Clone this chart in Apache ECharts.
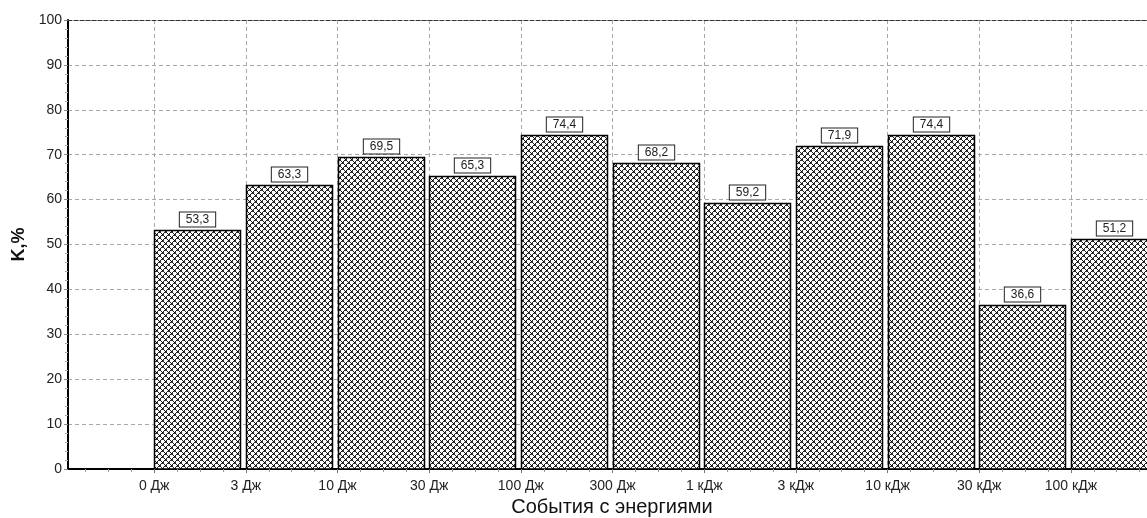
<!DOCTYPE html>
<html>
<head>
<meta charset="utf-8">
<script src="https://cdn.jsdelivr.net/npm/echarts@6/dist/echarts.min.js"></script>
<style>
  html, body { margin: 0; padding: 0; background: #fff; }
  #chart { width: 1147px; height: 518px; }
</style>
</head>
<body>
<div id="chart"></div>
<script>
// Energy class boundaries (tick labels on the x axis)
const boundaryLabels = ['0 Дж', '3 Дж', '10 Дж', '30 Дж', '100 Дж', '300 Дж',
  '1 кДж', '3 кДж', '10 кДж', '30 кДж', '100 кДж'];
// K, % for each energy class (class i lies between boundary i and i+1)
const kValues = [53.3, 63.3, 69.5, 65.3, 74.4, 68.2, 59.2, 71.9, 74.4, 36.6, 51.2];
// Value axis range
const yMin = 0, yMax = 100, yStep = 10;

// visible window of the class axis (last class runs past the right edge)
const xMin = -0.94, xMax = 10.83;
const FONT = '"Liberation Sans", Arial, sans-serif';

// Cross-hatch fill tile: thin diagonals with heavier crossing points
function hatchTile() {
  const n = 6;
  const c = document.createElement('canvas');
  c.width = n; c.height = n;
  const ctx = c.getContext('2d');
  ctx.fillStyle = '#fff';
  ctx.fillRect(0, 0, n, n);
  const img = ctx.getImageData(0, 0, n, n);
  const put = (x, y, v) => {
    const i = (((y + n) % n) * n + ((x + n) % n)) * 4;
    img.data[i] = v; img.data[i + 1] = v; img.data[i + 2] = v; img.data[i + 3] = 255;
  };
  for (let y = 0; y < n; y++) {
    for (let x = 0; x < n; x++) {
      const a = (x + y) % n === 0, b = (x - y + n) % n === 0;
      if (a || b) put(x, y, 30);
    }
  }
  // crossing points
  [[0, 0], [3, 3]].forEach(([x, y]) => {
    put(x, y, 0); put(x + 1, y, 60); put(x, y + 1, 60);
  });
  ctx.putImageData(img, 0, 0);
  return c;
}
const hatch = { image: hatchTile(), repeat: 'repeat' };

const barData = kValues.map((v, i) => [i, v]);
const majorTicks = boundaryLabels.map((_, i) => i);
const minorTicks = [];
for (let k = -1; k < boundaryLabels.length; k++) {
  for (let q = 1; q < 4; q++) {
    const t = k + q / 4;
    if (t > xMin && t < xMax) minorTicks.push(t);
  }
}

const fmt = v => v.toFixed(1).replace('.', ',');

const chart = echarts.init(document.getElementById('chart'), null, { renderer: 'canvas' });
chart.setOption({
  animation: false,
  backgroundColor: '#fff',
  grid: { left: 68, right: 0, top: 20, bottom: 49, containLabel: false, outerBoundsMode: 'none' },
  xAxis: [
    {
      type: 'value', min: xMin, max: xMax, position: 'bottom',
      name: 'События с энергиями', nameLocation: 'middle', nameGap: 27,
      nameTextStyle: { fontFamily: FONT, fontSize: 20, color: '#111', padding: [0, 0, 0, 9] },
      axisLine: { show: true, onZero: false, lineStyle: { color: '#000', width: 2 } },
      axisTick: { show: true, customValues: majorTicks, length: 4, lineStyle: { color: '#777' } },
      axisLabel: {
        customValues: majorTicks, margin: 10, hideOverlap: false,
        fontFamily: FONT, fontSize: 14, color: '#222',
        formatter: v => boundaryLabels[Math.round(v)]
      },
      splitLine: { show: true, lineStyle: { color: '#a8a8a8', type: [4, 3], width: 1 } }
    },
    {
      type: 'value', min: xMin, max: xMax, position: 'bottom',
      axisLine: { show: false, onZero: false },
      axisTick: { show: true, customValues: minorTicks, length: 3, lineStyle: { color: '#999' } },
      axisLabel: { show: false },
      splitLine: { show: false }
    },
    {
      type: 'value', min: xMin, max: xMax, position: 'top',
      axisLine: { show: true, onZero: false, lineStyle: { color: '#333', width: 1, type: [4, 2] } },
      axisTick: { show: false },
      axisLabel: { show: false },
      splitLine: { show: false }
    }
  ],
  yAxis: {
    type: 'value', min: yMin, max: yMax, interval: yStep,
    name: 'K,%', nameLocation: 'middle', nameGap: 37, nameRotate: 90,
    nameTextStyle: { fontFamily: FONT, fontSize: 18, fontWeight: 'bold', color: '#111' },
    axisLine: { show: true, onZero: false, lineStyle: { color: '#000', width: 2 } },
    axisTick: { show: true, length: 4, lineStyle: { color: '#888' } },
    minorTick: { show: true, splitNumber: 5, length: 3, lineStyle: { color: '#aaa' } },
    axisLabel: { margin: 6, fontFamily: FONT, fontSize: 14, color: '#222' },
    splitLine: { show: true, lineStyle: { color: '#a8a8a8', type: [4, 3], width: 1 } }
  },
  series: [{
    type: 'custom',
    xAxisIndex: 0,
    clip: true,
    data: barData,
    renderItem: (params, api) => {
      const i = api.value(0), v = api.value(1);
      const p0 = api.coord([i, 0]);
      const p1 = api.coord([i + 1, v]);
      const gap = 6;
      const x = Math.round(p0[0]) + 0.5;
      const w = Math.round(p1[0] - p0[0]) - gap;
      const top = Math.round(p1[1]) + 0.5;
      const h = Math.round(p0[1]) - top;
      return {
        type: 'group',
        children: [
          {
            type: 'rect',
            shape: { x: x, y: top, width: w, height: h },
            style: { fill: hatch, stroke: '#000', lineWidth: 1.5 }
          },
          {
            type: 'text',
            z2: 10,
            style: {
              text: fmt(v),
              x: x + w / 2, y: top - 4,
              align: 'center', verticalAlign: 'bottom',
              font: '12px ' + FONT, fill: '#222',
              backgroundColor: '#fff', borderColor: '#222', borderWidth: 1,
              padding: [1, 6, 1, 6]
            }
          }
        ]
      };
    }
  }]
});
</script>
</body>
</html>
